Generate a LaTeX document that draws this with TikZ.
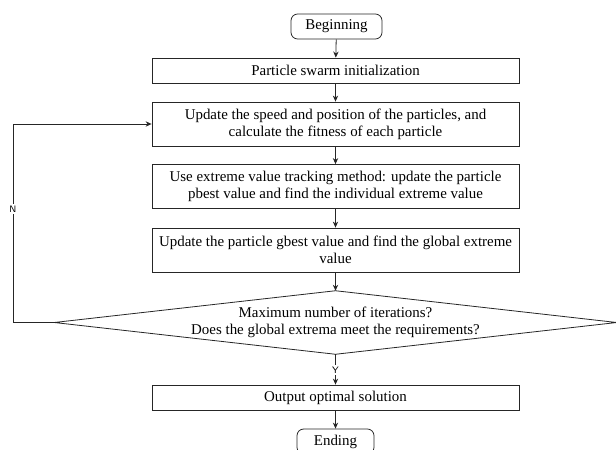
\documentclass[tikz,border=0pt]{standalone}
\usepackage{fontspec}
\setmainfont{Liberation Serif}
\usetikzlibrary{arrows.meta}

\tikzset{
  box/.style={draw=black!85, line width=0.6pt, minimum width=275.25pt, minimum height=18.75pt, align=center, inner sep=1pt, font=\fontsize{11.2}{12.75}\selectfont},
  tallbox/.style={box, minimum height=33pt},
  term/.style={box, rounded corners=5pt},
  lbl/.style={fill=white, inner sep=1pt, font=\fontsize{7}{8}\selectfont\sffamily},
  arr/.style={-{Stealth[length=4.5pt,width=4pt]}, line width=0.6pt, draw=black!85},
}

\begin{document}
\begin{tikzpicture}[x=0.75pt,y=0.75pt,yscale=-1,xscale=1]
\useasboundingbox (0,0) rectangle (616,449);

% Terminal Nodes
\node[term, minimum width=68.25pt] (begin) at (336.5,26.5) {Beginning};
\node[term, minimum width=57.75pt] (ending) at (335.5,441.5) {Ending};

% Process Nodes
\node[box] (init) at (335.5,70.5) {Particle swarm initialization};
\node[tallbox] (update) at (335.5,124) {Update the speed and position of the particles, and\\calculate the fitness of each particle};
\node[tallbox] (pbest) at (335.5,186.5) {Use extreme value tracking method: update the particle\\pbest value and find the individual extreme value};
\node[tallbox] (gbest) at (335.5,250) {Update the particle gbest value and find the global extreme\\value};
\node[box] (output) at (335.5,397.5) {Output optimal solution};

% Decision Node
\node[minimum width=421.5pt, minimum height=47.25pt, inner sep=0pt, align=center, font=\fontsize{11.2}{12.75}\selectfont] (check) at (335.5,322.5) {Maximum number of iterations?\\Does the global extrema meet the requirements?};
\draw[draw=black!85, line width=0.6pt] (check.north) -- (check.east) -- (check.south) -- (check.west) -- cycle;

%Straight Lines
\draw[arr] (begin) -- (init);
\draw[arr] (init) -- (update);
\draw[arr] (update) -- (pbest);
\draw[arr] (pbest) -- (gbest);
\draw[arr] (gbest) -- (check.north);
\draw[arr] (check.south) -- (output);
\draw[arr] (output) -- (ending);

% Loop back
\coordinate (loop) at (13,124);
\draw[arr] (check.west) -| (loop) -- (update.west);

% Text Node
\node[lbl] (nlab) at (13,209) {N};
\node[lbl] (ylab) at (335.5,370) {Y};

\end{tikzpicture}
\end{document}
